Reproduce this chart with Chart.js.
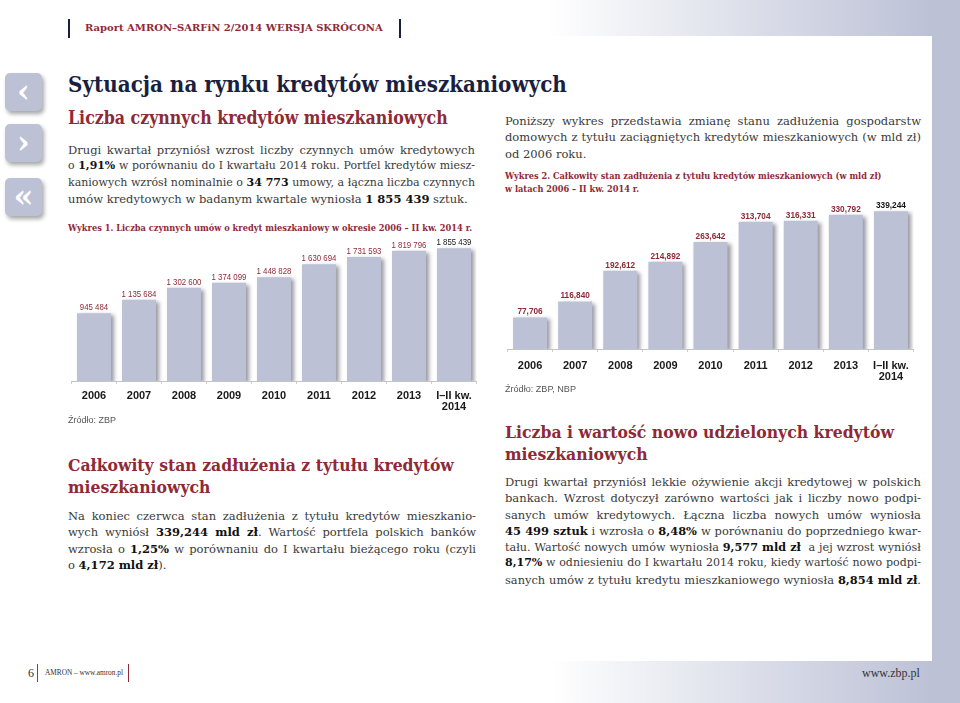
<!DOCTYPE html>
<html lang="pl">
<head>
<meta charset="utf-8">
<title>Raport AMRON-SARFiN 2/2014</title>
<script src="https://cdn.jsdelivr.net/npm/chart.js@4.4.1/dist/chart.umd.min.js"></script>
<style>
  html, body { margin: 0; padding: 0; }
  body {
    width: 960px; height: 703px; position: relative; overflow: hidden;
    background: #fff; font-family: 'DejaVu Serif', serif; color: #3a3a3a;
  }
  .abs { position: absolute; white-space: nowrap; }
  .band-top { left: 0; top: 0; width: 960px; height: 36px; background: linear-gradient(to right, #fff 547px, #bcc1d6 932px); }
  .band-bot { left: 0; top: 661px; width: 960px; height: 42px; background: linear-gradient(to right, #fff 550px, #bcc1d6 932px); }
  .band-right { left: 932px; top: 0; width: 28px; height: 703px; background: #bcc1d6; }
  .icon {
    position: absolute; left: 5px; width: 37px; height: 38px; border-radius: 5px;
    background: #bcc1d6; box-shadow: 2px 3px 4px rgba(0,0,0,0.35);
    color: #fff; font: bold 32px/36px 'DejaVu Serif', serif; text-align: center;
  }
  .vbar { position: absolute; width: 2px; height: 19px; background: #1b1f3f; }
  .red { color: #8e2a36; }
  .head { font-family: 'DejaVu Serif Condensed', 'DejaVu Serif', serif; font-weight: bold; font-size: 18px; line-height: 22px; }
  .cap { font-family: 'DejaVu Serif Condensed', 'DejaVu Serif', serif; font-weight: bold; font-size: 9px; line-height: 13px; color: #8e2a36; }
  .src { font-family: 'Liberation Sans', sans-serif; font-size: 9px; line-height: 12px; color: #555; }
  .foot { font-family: 'Liberation Serif', serif; font-size: 12px; line-height: 14px; color: #333; }
  .para { position: absolute; font-size: var(--bf, 11px); line-height: 16.3px; color: #3a3a3a; }
  .para div { text-align: justify; text-align-last: justify; height: 16.3px; }
  .para div.end { text-align-last: left; }
  .para b { color: #111; }
  canvas { position: absolute; }
</style>
</head>
<body>
<div class="abs band-top"></div>
<div class="abs band-bot"></div>
<div class="abs band-right"></div>

<div class="icon" style="top:73px">‹</div>
<div class="icon" style="top:124px">›</div>
<div class="icon" style="top:178px">«</div>

<div class="vbar" style="left:68px; top:19px"></div>
<div class="abs red" data-w="298" style="left:85px; top:20px; font-weight:bold; font-size:12px; line-height:16px">Raport AMRON–SARFiN 2/2014 WERSJA SKRÓCONA</div>
<div class="vbar" style="left:399px; top:19px"></div>

<div class="abs head" data-w="499" style="left:68px; top:71px; line-height:26px; font-size:22px; color:#1b1f3f">Sytuacja na rynku kredytów mieszkaniowych</div>
<div class="abs head red" data-w="380" style="left:68px; top:107px">Liczba czynnych kredytów mieszkaniowych</div>

<div class="para" style="left:68px; top:142px; width:407px">
  <div>Drugi kwartał przyniósł wzrost liczby czynnych umów kredytowych</div>
  <div>o <b>1,91%</b> w porównaniu do I kwartału 2014 roku. Portfel kredytów miesz-</div>
  <div>kaniowych wzrósł nominalnie o <b>34 773</b> umowy, a łączna liczba czynnych</div>
  <div class="end"><span id="bodyRef">umów kredytowych w badanym kwartale wyniosła <b>1 855 439</b> sztuk.</span></div>
</div>

<div class="abs cap" data-w="405" style="left:68px; top:221px">Wykres 1. Liczba czynnych umów o kredyt mieszkaniowy w okresie 2006 – II kw. 2014 r.</div>
<canvas id="loansChart" width="425" height="179" style="left:60px; top:236px"></canvas>
<div class="abs src" data-w="48" style="left:68px; top:414px">Źródło: ZBP</div>

<div class="abs head red" data-w="386" style="left:68px; top:454px"><div>Całkowity stan zadłużenia z tytułu kredytów</div><div>mieszkaniowych</div></div>

<div class="para" style="left:68px; top:508px; width:408px">
  <div>Na koniec czerwca stan zadłużenia z tytułu kredytów mieszkanio-</div>
  <div>wych wyniósł <b>339,244 mld zł</b>. Wartość portfela polskich banków</div>
  <div>wzrosła o <b>1,25%</b> w porównaniu do I kwartału bieżącego roku (czyli</div>
  <div class="end">o <b>4,172 mld zł</b>).</div>
</div>

<div class="para" style="left:505px; top:113px; width:416px">
  <div>Poniższy wykres przedstawia zmianę stanu zadłużenia gospodarstw</div>
  <div>domowych z tytułu zaciągniętych kredytów mieszkaniowych (w mld zł)</div>
  <div class="end">od 2006 roku.</div>
</div>

<div class="abs cap" data-w="377" style="left:505px; top:169px"><div>Wykres 2. Całkowity stan zadłużenia z tytułu kredytów mieszkaniowych (w mld zł)</div><div>w latach 2006 – II kw. 2014 r.</div></div>
<canvas id="debtChart" width="430" height="190" style="left:495px; top:195px"></canvas>
<div class="abs src" data-w="71" style="left:505px; top:383px">Źródło: ZBP, NBP</div>

<div class="abs head red" data-w="389" style="left:505px; top:421px"><div>Liczba i wartość nowo udzielonych kredytów</div><div>mieszkaniowych</div></div>

<div class="para" style="left:505px; top:474px; width:416px">
  <div>Drugi kwartał przyniósł lekkie ożywienie akcji kredytowej w polskich</div>
  <div>bankach. Wzrost dotyczył zarówno wartości jak i liczby nowo podpi-</div>
  <div>sanych umów kredytowych. Łączna liczba nowych umów wyniosła</div>
  <div><b>45 499 sztuk</b> i wzrosła o <b>8,48%</b> w porównaniu do poprzedniego kwar-</div>
  <div>tału. Wartość nowych umów wyniosła <b>9,577 mld zł</b>&nbsp; a jej wzrost wyniósł</div>
  <div><b>8,17%</b> w odniesieniu do I kwartału 2014 roku, kiedy wartość nowo podpi-</div>
  <div>sanych umów z tytułu kredytu mieszkaniowego wyniosła <b>8,854 mld zł</b>.</div>
</div>

<div class="abs foot" style="left:28px; top:666px">6</div>
<div class="abs" style="left:37px; top:664px; width:1px; height:18px; background:#555"></div>
<div class="abs foot" data-w="78" style="left:45px; top:666px">AMRON – www.amron.pl</div>
<div class="abs" style="left:128px; top:664px; width:1px; height:18px; background:#8e2a36"></div>
<div class="abs foot" data-w="58" style="left:862px; top:666px">www.zbp.pl</div>

<script>
// data
const years = ['2006', '2007', '2008', '2009', '2010', '2011', '2012', '2013', ['I–II kw.', '2014']];
const loanCounts = [945484, 1135684, 1302600, 1374099, 1448828, 1630694, 1731593, 1819796, 1855439];
const debtBillions = [77.706, 116.840, 192.612, 214.892, 263.642, 313.704, 316.331, 330.792, 339.244];

// fit text widths to the page
document.querySelectorAll('[data-w]').forEach(el => {
    const w = el.getBoundingClientRect().width;
    const fs = parseFloat(getComputedStyle(el).fontSize);
    el.style.fontSize = (fs * (+el.dataset.w) / w).toFixed(2) + 'px';
});
const ref = document.getElementById('bodyRef');
const refW = ref.getBoundingClientRect().width;
document.body.style.setProperty('--bf', (11 * 400 / refW).toFixed(2) + 'px');
document.querySelectorAll('.para div').forEach(line => {
    let fs = parseFloat(getComputedStyle(line).fontSize);
    while (line.scrollHeight > 20 && fs > 6) {
        fs -= 0.1;
        line.style.fontSize = fs + 'px';
    }
});

const spaced = v => String(v).replace(/\B(?=(\d{3})+(?!\d))/g, ' ');
const decimal = v => v.toFixed(3).replace('.', ',');

// shadow under the bars + value labels above them (narrowed a bit, like the print)
const barDecor = {
    id: 'barDecor',
    beforeDatasetsDraw(chart) {
        const ctx = chart.ctx;
        ctx.save();
        ctx.shadowColor = 'rgba(30, 30, 50, 0.45)';
        ctx.shadowBlur = 4;
        ctx.shadowOffsetX = 3;
        ctx.shadowOffsetY = 2;
    },
    afterDatasetsDraw(chart) {
        const ctx = chart.ctx;
        ctx.restore();
        const ds = chart.data.datasets[0];
        const bars = chart.getDatasetMeta(0).data;
        bars.forEach((bar, i) => {
            ctx.save();
            ctx.font = ds.labelFont;
            ctx.textAlign = 'center';
            ctx.textBaseline = 'bottom';
            ctx.fillStyle = i === bars.length - 1 ? '#151515' : '#8e2a36';
            ctx.translate(bar.x, bar.y - 1);
            ctx.scale(0.87, 1);
            ctx.fillText(ds.labelText[i], 0, 0);
            ctx.restore();
        });
    }
};

const makeChart = (id, values, texts, labelFont, yMax, pad, tickPad, axisH, barPct) => new Chart(document.getElementById(id), {
    type: 'bar',
    data: {
        labels: years,
        datasets: [{
            data: values,
            labelText: texts,
            labelFont: labelFont,
            backgroundColor: '#bcc1d6',
            borderWidth: 0,
            categoryPercentage: 1,
            barPercentage: barPct
        }]
    },
    options: {
        responsive: false,
        animation: false,
        layout: { padding: pad },
        plugins: { legend: { display: false }, tooltip: { enabled: false } },
        scales: {
            x: {
                offset: true,
                grid: { drawOnChartArea: false, tickLength: 3, color: '#cfcfcf', offset: true },
                border: { color: '#c4c4c4' },
                ticks: {
                    color: '#1a1a1a',
                    padding: tickPad,
                    maxRotation: 0,
                    autoSkip: false,
                    font: { family: 'Liberation Sans', size: 11, weight: 'bold', lineHeight: 1 }
                },
                afterFit: s => { s.height = axisH; }
            },
            y: { display: false, min: 0, max: yMax }
        }
    },
    plugins: [barDecor]
});

makeChart('loansChart', loanCounts, loanCounts.map(spaced), '9px "Liberation Sans", sans-serif',
    1900000, { top: 9, left: 11.5, right: 8.5, bottom: 0 }, 6, 34, 0.755);
makeChart('debtChart', debtBillions, debtBillions.map(decimal), 'bold 9.5px "Liberation Sans", sans-serif',
    350, { top: 12, left: 12.5, right: 11.5, bottom: 0 }, 8, 36, 0.754);
</script>
</body>
</html>
